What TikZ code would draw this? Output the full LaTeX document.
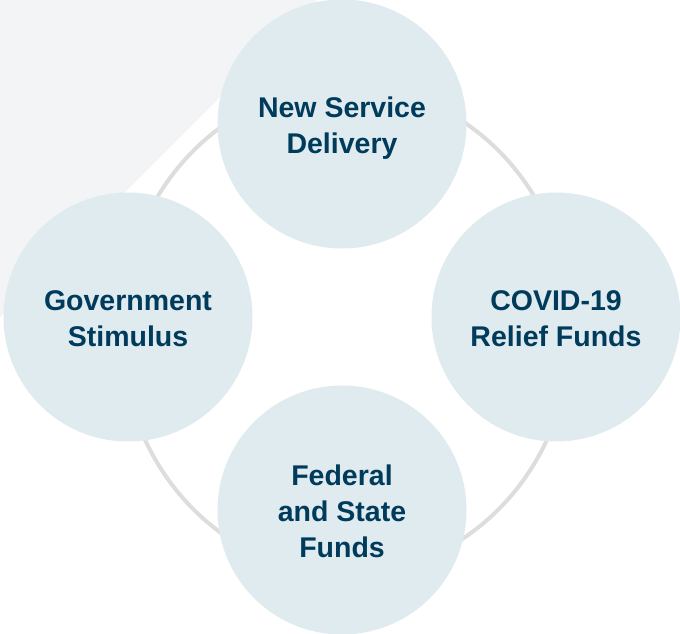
\documentclass[tikz,border=0pt]{standalone}
\usepackage{fontspec}
\setmainfont{Liberation Sans}
\usepackage{xcolor}

\definecolor{bubblefill}{RGB}{224,235,239}
\definecolor{bubbletext}{RGB}{0,59,92}
\definecolor{ringgray}{RGB}{221,221,221}
\definecolor{shadegray}{RGB}{242,244,246}

\begin{document}
\begin{tikzpicture}[x=1pt,y=-1pt,
		bubble/.style={circle,fill=bubblefill,minimum size=249pt,inner sep=0pt,
			text height=58pt,text depth=0pt,
			text=bubbletext,align=center,font=\fontsize{28.5}{36}\selectfont\bfseries}]
		
		\useasboundingbox (0,0) rectangle (680,634);
		
		\fill[shadegray] (0,0) -- (317,0) -- (0,317) -- cycle;
		
		\draw[ringgray,line width=4pt]
		(346,330) ellipse [x radius=225pt, y radius=244pt];
		
		\node[bubble] (delivery) at (342,124) {New Service\\Delivery};
		\node[bubble] (stimulus) at (128,317) {Government\\Stimulus};
		\node[bubble] (relief) at (556,317) {COVID-19\\Relief Funds};
		\node[bubble,text height=94pt] (funds) at (342,510) {Federal\\and State\\Funds};
		
	\end{tikzpicture}
\end{document}
